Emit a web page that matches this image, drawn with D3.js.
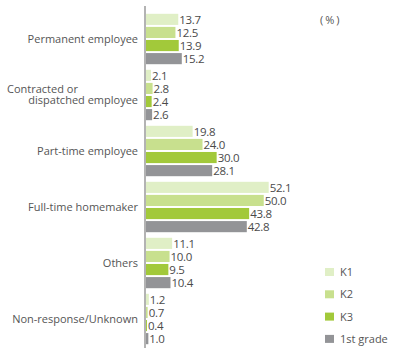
<!doctype html>
<html>
<head>
    <meta charset="utf-8">
    <style>
        body { margin: 0; background: #fff; font-family: 'Open Sans', sans-serif; }
        svg { display: block; }
        text { fill: #555; font-size: 11px; }
        text.value { font-size: 11.5px; fill: #4a4a4a; letter-spacing: -0.3px; }
        text.unit { letter-spacing: 2px; }
        line.axis { stroke: #b3b3b3; stroke-width: 2; }
    </style>
    <script src="https://d3js.org/d3.v7.min.js"></script>
</head>
<body>
<svg width="400" height="354"></svg>
<script>
    // categories, top to bottom
    const categories = [
        'Permanent employee',
        'Contracted or dispatched employee',
        'Part-time employee',
        'Full-time homemaker',
        'Others',
        'Non-response/Unknown'
    ]
    const series = ['K1', 'K2', 'K3', '1st grade']
    const colors = ['#e0efc6', '#c8e08e', '#a2c93a', '#939497']

    // values per series, in category order (%)
    const k1 = [13.7, 2.1, 19.8, 52.1, 11.1, 1.2]
    const k2 = [12.5, 2.8, 24.0, 50.0, 10.0, 0.7]
    const k3 = [13.9, 2.4, 30.0, 43.8, 9.5, 0.4]
    const grade1 = [15.2, 2.6, 28.1, 42.8, 10.4, 1.0]
    const values = [k1, k2, k3, grade1]

    const data = categories.map((c, i) => ({
        category: c,
        values: series.map((s, j) => ({ key: s, value: values[j][i] }))
    }))

    const svg = d3.select('svg')

    const axisX = 146

    const yScale = d3.scaleBand()
        .domain(categories)
        .range([11, 347])
        .paddingInner(0.1)
        .paddingOuter(0.05)

    const ySub = d3.scaleBand()
        .domain(series)
        .range([0, yScale.bandwidth()])
        .paddingInner(0.15)

    const xScale = d3.scaleLinear()
        .domain([0, 100])
        .range([axisX, axisX + 235.5])

    const colorScale = d3.scaleOrdinal().domain(series).range(colors)

    const groups = svg.selectAll('g.group')
        .data(data)
        .enter()
        .append('g')
        .attr('class', 'group')
        .attr('transform', d => `translate(0, ${yScale(d.category)})`)

    groups.selectAll('rect')
        .data(d => d.values)
        .enter()
        .append('rect')
        .attr('x', xScale(0))
        .attr('y', d => ySub(d.key))
        .attr('width', d => xScale(d.value) - xScale(0))
        .attr('height', ySub.bandwidth())
        .attr('fill', d => colorScale(d.key))

    groups.selectAll('text.value')
        .data(d => d.values)
        .enter()
        .append('text')
        .attr('class', 'value')
        .attr('x', d => xScale(d.value) + 1)
        .attr('y', d => ySub(d.key) + ySub.bandwidth() / 2)
        .attr('dy', '0.36em')
        .text(d => d.value.toFixed(1))

    // vertical axis line
    svg.append('line')
        .attr('class', 'axis')
        .attr('x1', axisX - 1).attr('x2', axisX - 1)
        .attr('y1', 6).attr('y2', 348)

    // category labels
    groups.each(function (d) {
        const g = d3.select(this)
        const mid = yScale.bandwidth() / 2
        if (d.category.startsWith('Contracted')) {
            g.append('text')
                .attr('x', 7)
                .attr('y', mid - 6)
                .attr('dy', '0.36em')
                .text('Contracted or')
            g.append('text')
                .attr('x', 138)
                .attr('y', mid + 5.5)
                .attr('dy', '0.36em')
                .attr('text-anchor', 'end')
                .text('dispatched employee')
        } else {
            g.append('text')
                .attr('x', 138)
                .attr('y', mid)
                .attr('dy', '0.36em')
                .attr('text-anchor', 'end')
                .text(d.category)
        }
    })

    svg.append('text')
        .attr('class', 'unit')
        .attr('x', 320)
        .attr('y', 20)
        .attr('dy', '0.36em')
        .text('(%)')

    // legend
    const legend = svg.selectAll('g.legend')
        .data(series)
        .enter()
        .append('g')
        .attr('class', 'legend')
        .attr('transform', (d, i) => `translate(325, ${268 + i * 22.3})`)

    legend.append('rect')
        .attr('width', 9)
        .attr('height', 8)
        .attr('fill', d => colorScale(d))

    legend.append('text')
        .attr('x', 15)
        .attr('y', 4)
        .attr('dy', '0.36em')
        .text(d => d)
</script>
</body>
</html>
